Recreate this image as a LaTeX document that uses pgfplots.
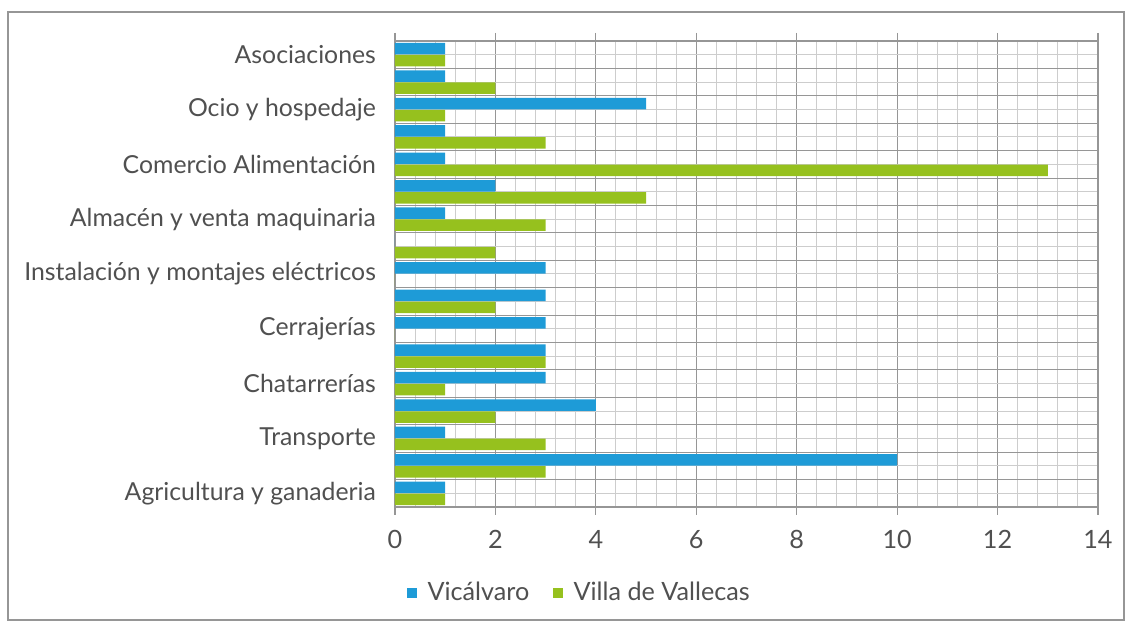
\documentclass[border=0pt]{standalone}
\usepackage{pgfplots}
\pgfplotsset{compat=1.18}
\usepackage{fontspec}
\setmainfont{Lato}
\definecolor{vblue}{RGB}{30,155,215}
\definecolor{vgreen}{RGB}{150,193,30}
\definecolor{txt}{RGB}{80,80,80}
\definecolor{gmaj}{RGB}{150,150,150}
\definecolor{gmin}{RGB}{205,205,205}
\pgfplotstableread{
idx v vv
0 1 1
1 10 3
2 1 3
3 4 2
4 3 1
5 3 3
6 3 0
7 3 2
8 3 0
9 0 2
10 1 3
11 2 5
12 1 13
13 1 3
14 5 1
15 1 2
16 1 1
}\datatab
\begin{document}
\begin{tikzpicture}[x=1pt,y=1pt]
\useasboundingbox (-197.5,-59) rectangle (368,253.5);
\draw[gmaj,line width=0.6pt] (-193.5,-56.5) rectangle (364.5,247.5);
\begin{axis}[
  at={(0,0)}, anchor=south west,
  width=351.5pt, height=233pt, scale only axis,
  xmin=0, xmax=14, ymin=-0.5, ymax=16.5,
  xtick={0,2,...,14}, minor x tick num=4,
  ytick={-0.5,0.5,...,16.5}, yticklabels={},
  minor y tick num=1,
  xmajorgrids, xminorgrids, ymajorgrids, yminorgrids,
  major grid style={gmaj, line width=0.5pt},
  minor grid style={gmin, line width=0.5pt},
  axis line style={gmaj, line width=0.6pt},
  tick align=outside,
  major tick length=4pt, minor tick length=0pt,
  x tick style={gmaj, line width=0.6pt},
  y tick style={draw=none},
  extra y ticks={0,2,...,16},
  extra y tick labels={Agricultura y ganaderia,Transporte,Chatarrerías,Cerrajerías,Instalación y montajes eléctricos,Almacén y venta maquinaria,Comercio Alimentación,Ocio y hospedaje,Asociaciones},
  extra y tick style={grid=none, major tick length=0pt},
  y tick label style={font=\fontsize{12.4}{14}\selectfont, text=txt, xshift=-6pt},
  x tick label style={font=\fontsize{12.6}{14}\selectfont, text=txt, yshift=-4pt},
  /pgf/number format/assume math mode=true,
  xbar, bar width=5.75pt,
  legend columns=2,
  legend style={at={(0.017,-0.1845)}, anchor=west, draw=none, fill=none,
    font=\fontsize{12.6}{14}\selectfont, text=txt, inner sep=0pt,
    /tikz/every odd column/.append style={column sep=3.5pt},
    /tikz/every even column/.append style={column sep=10pt}},
  legend image code/.code={\fill[#1] (0pt,-2.3pt) rectangle (4.6pt,2.3pt);},
]
\addplot[fill=vblue, draw=none, bar shift=3pt] table[x=v, y=idx] {\datatab};
\addplot[fill=vgreen, draw=none, bar shift=-3pt] table[x=vv, y=idx] {\datatab};
\legend{Vicálvaro, Villa de Vallecas}
\end{axis}
\end{tikzpicture}
\end{document}
